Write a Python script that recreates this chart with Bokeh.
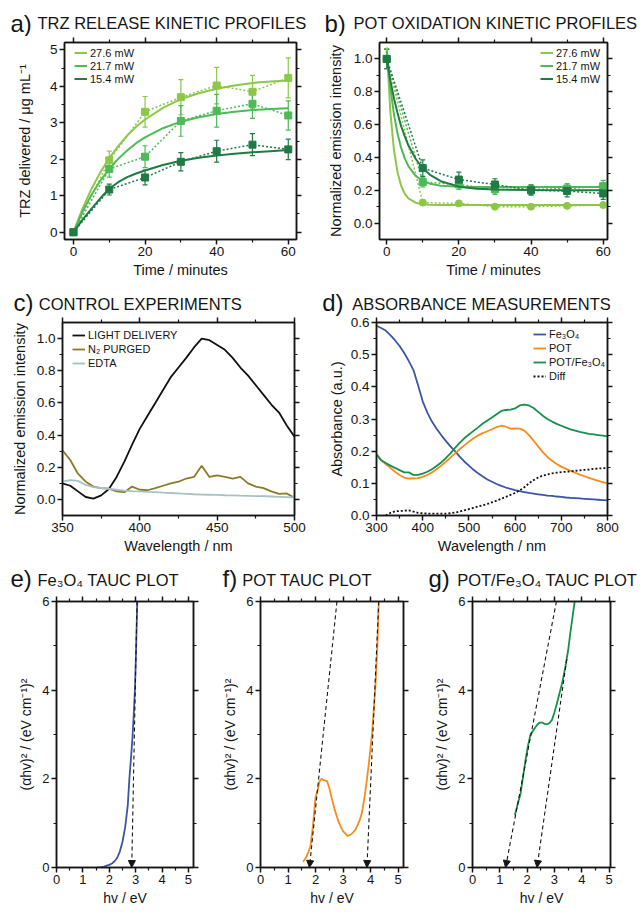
from bokeh.plotting import figure
from bokeh.models import (Range1d, LinearAxis, FixedTicker, PrintfTickFormatter,
                          Legend, LegendItem, Whisker, TeeHead, Arrow, NormalHead, ColumnDataSource)
from bokeh.core.properties import value
from bokeh.layouts import column, row
from bokeh.embed import file_html
from bokeh.resources import INLINE

FONT = "Liberation Sans"
INK = "#151515"

# ---------------- data ----------------
powers = ["27.6 mW", "21.7 mW", "15.4 mW"]
green_cols = ["#8cc74a", "#4dba57", "#1f7a45"]

time_pts = [0, 10, 20, 30, 40, 50, 60]
# a) TRZ release
trz_276 = [0, 1.97, 3.30, 3.70, 4.02, 3.85, 4.23]
trz_217 = [0, 1.73, 2.07, 3.05, 3.33, 3.52, 3.20]
trz_154 = [0, 1.17, 1.50, 1.93, 2.22, 2.40, 2.27]
trz_err_276 = [0, 0.25, 0.42, 0.48, 0.50, 0.45, 0.55]
trz_err_217 = [0, 0.22, 0.30, 0.42, 0.45, 0.40, 0.40]
trz_err_154 = [0, 0.15, 0.20, 0.25, 0.30, 0.30, 0.28]
fit_t_a = [0, 2.5, 5, 7.5, 10, 12.5, 15, 17.5, 20, 25, 30, 35, 40, 45, 50, 55, 60]
fit_a_276 = [0, 0.64, 1.18, 1.64, 2.03, 2.36, 2.65, 2.89, 3.09, 3.41, 3.65, 3.81, 3.93, 4.02, 4.09, 4.13, 4.16]
fit_a_217 = [0, 0.55, 1.02, 1.41, 1.74, 2.01, 2.24, 2.44, 2.60, 2.85, 3.03, 3.15, 3.24, 3.30, 3.35, 3.38, 3.40]
fit_a_154 = [0, 0.34, 0.64, 0.93, 1.19, 1.37, 1.51, 1.61, 1.69, 1.84, 1.96, 2.04, 2.10, 2.15, 2.19, 2.22, 2.25]

# b) POT oxidation
pot_276 = [1.0, 0.125, 0.12, 0.10, 0.10, 0.105, 0.11]
pot_217 = [1.0, 0.25, 0.235, 0.205, 0.205, 0.21, 0.225]
pot_154 = [1.0, 0.335, 0.265, 0.235, 0.20, 0.195, 0.18]
pot_err_276 = [0.06, 0.015, 0.015, 0.012, 0.012, 0.012, 0.015]
pot_err_217 = [0.06, 0.03, 0.03, 0.03, 0.03, 0.03, 0.035]
pot_err_154 = [0.06, 0.05, 0.045, 0.035, 0.03, 0.035, 0.035]
fit_t_b = [0, 1, 2, 3, 4, 5, 6, 8, 10, 12, 15, 20, 25, 30, 40, 50, 60]
fit_b_276 = [1.07, 0.68, 0.445, 0.31, 0.227, 0.179, 0.151, 0.124, 0.115, 0.112, 0.11, 0.11, 0.11, 0.11, 0.11, 0.11, 0.11]
fit_b_217 = [1.05, 0.827, 0.664, 0.545, 0.458, 0.394, 0.347, 0.288, 0.256, 0.24, 0.228, 0.222, 0.22, 0.22, 0.22, 0.22, 0.22]
fit_b_154 = [1.0, 0.87, 0.76, 0.67, 0.59, 0.53, 0.474, 0.392, 0.334, 0.294, 0.255, 0.222, 0.209, 0.204, 0.201, 0.2, 0.2]

# c) control experiments
wl_c = list(range(350, 501, 5))
light_delivery = [0.10, 0.085, 0.05, 0.015, 0.005, 0.025, 0.065, 0.14, 0.235, 0.34, 0.44, 0.52, 0.60, 0.68,
                  0.76, 0.82, 0.88, 0.945, 1.0, 0.99, 0.96, 0.93, 0.88, 0.82, 0.77, 0.71, 0.65, 0.59, 0.54, 0.46, 0.39]
n2_purged = [0.305, 0.245, 0.16, 0.11, 0.08, 0.07, 0.067, 0.05, 0.045, 0.08, 0.06, 0.057, 0.07, 0.085,
             0.10, 0.11, 0.13, 0.14, 0.21, 0.14, 0.15, 0.14, 0.13, 0.14, 0.10, 0.08, 0.07, 0.05, 0.035, 0.037, 0.01]
edta = [0.11, 0.12, 0.115, 0.09, 0.077, 0.07, 0.065, 0.06, 0.055, 0.052, 0.05, 0.047, 0.045, 0.042,
        0.04, 0.038, 0.035, 0.032, 0.03, 0.029, 0.028, 0.026, 0.025, 0.023, 0.022, 0.021, 0.02, 0.018, 0.016, 0.014, 0.012]

# d) absorbance
wl_d = list(range(300, 801, 10))
abs_fe3o4 = [0.590, 0.583, 0.575, 0.561, 0.545, 0.527, 0.505, 0.480, 0.452, 0.405, 0.355, 0.320, 0.292, 0.270,
             0.250, 0.232, 0.215, 0.200, 0.183, 0.168, 0.155, 0.142, 0.131, 0.121, 0.112, 0.105, 0.098, 0.092,
             0.087, 0.083, 0.079, 0.076, 0.073, 0.070, 0.068, 0.066, 0.064, 0.062, 0.061, 0.059, 0.058, 0.056,
             0.055, 0.054, 0.053, 0.052, 0.051, 0.050, 0.049, 0.048, 0.047]
abs_pot = [0.190, 0.172, 0.160, 0.148, 0.136, 0.126, 0.118, 0.115, 0.115, 0.116, 0.120, 0.126, 0.134, 0.144,
           0.155, 0.167, 0.180, 0.193, 0.206, 0.218, 0.229, 0.240, 0.249, 0.256, 0.262, 0.268, 0.275, 0.279,
           0.276, 0.270, 0.271, 0.270, 0.264, 0.250, 0.233, 0.214, 0.197, 0.182, 0.170, 0.160, 0.152, 0.145,
           0.139, 0.133, 0.127, 0.122, 0.117, 0.112, 0.108, 0.104, 0.100]
abs_pot_fe3o4 = [0.190, 0.172, 0.163, 0.155, 0.148, 0.141, 0.134, 0.134, 0.126, 0.126, 0.130, 0.136, 0.144, 0.154,
                 0.165, 0.178, 0.193, 0.210, 0.226, 0.240, 0.252, 0.263, 0.274, 0.286, 0.295, 0.305, 0.315, 0.325,
                 0.328, 0.329, 0.333, 0.342, 0.345, 0.342, 0.334, 0.322, 0.310, 0.300, 0.292, 0.285, 0.279, 0.273,
                 0.268, 0.264, 0.260, 0.257, 0.254, 0.252, 0.250, 0.248, 0.246]
wl_diff = list(range(320, 801, 10))
abs_diff = [0.000, 0.008, 0.013, 0.014, 0.015, 0.016, 0.012, 0.008, 0.007, 0.006, 0.006, 0.006, 0.006, 0.006,
            0.007, 0.009, 0.012, 0.016, 0.020, 0.024, 0.028, 0.032, 0.036, 0.041, 0.046, 0.052, 0.058, 0.064,
            0.070, 0.078, 0.088, 0.100, 0.110, 0.118, 0.124, 0.128, 0.131, 0.133, 0.135, 0.136, 0.137, 0.139,
            0.140, 0.142, 0.143, 0.145, 0.146, 0.147, 0.147]

# e-g) Tauc plots
tauc_e_hv = [1.54, 1.7, 1.8, 1.9, 2.0, 2.1, 2.2, 2.3, 2.4, 2.5, 2.6, 2.7, 2.76, 2.82, 2.88, 2.93, 2.97, 3.01, 3.06]
tauc_e_val = [0.0, 0.01, 0.02, 0.04, 0.06, 0.09, 0.14, 0.22, 0.36, 0.58, 0.9, 1.4, 2.0, 2.45, 2.95, 3.5, 4.0, 4.8, 6.0]
tauc_f_hv = [1.55, 1.65, 1.75, 1.82, 1.9, 2.0, 2.08, 2.15, 2.22, 2.3, 2.42, 2.5, 2.6, 2.7, 2.85, 3.0, 3.17,
             3.3, 3.45, 3.6, 3.69, 3.8, 3.93, 4.06, 4.18, 4.25, 4.3]
tauc_f_val = [0.13, 0.22, 0.36, 0.49, 0.9, 1.58, 1.75, 1.95, 2.0, 1.97, 1.95, 1.8, 1.54, 1.3, 1.01, 0.82, 0.71,
              0.75, 0.85, 1.05, 1.24, 1.65, 2.29, 3.04, 4.09, 5.0, 6.0]
tauc_g_hv = [1.55, 1.65, 1.76, 1.85, 1.94, 2.03, 2.12, 2.25, 2.37, 2.46, 2.55, 2.64, 2.73, 2.82, 2.91, 3.0,
             3.09, 3.18, 3.28, 3.4, 3.5, 3.58, 3.66, 3.74]
tauc_g_val = [1.18, 1.42, 1.67, 2.05, 2.42, 2.75, 2.99, 3.12, 3.22, 3.27, 3.27, 3.24, 3.23, 3.26, 3.33, 3.5,
              3.7, 3.92, 4.16, 4.53, 4.9, 5.29, 5.65, 6.0]
# tangent extrapolations (start hv, start value, band-gap hv at 0)
tan_e = [(3.05, 6.0, 2.85)]
tan_f = [(2.78, 6.0, 1.78), (4.30, 6.0, 3.87)]
tan_g = [(3.07, 6.0, 1.21), (3.45, 4.7, 2.36)]

# panel titles: (letter, title) per row
titles_row1 = [("a)", "TRZ RELEASE KINETIC PROFILES"), ("b)", "POT OXIDATION KINETIC PROFILES")]
titles_row2 = [("c)", "CONTROL EXPERIMENTS"), ("d)", "ABSORBANCE MEASUREMENTS")]
titles_row3 = [("e)", "Fe₃O₄ TAUC PLOT"), ("f)", "POT TAUC PLOT"), ("g)", "POT/Fe₃O₄ TAUC PLOT")]

LETTER_PX = 24
TITLE_PX = 16.5


# ---------------- helpers ----------------
def style_axis(ax, fs, show=True):
    ax.axis_line_color = INK
    ax.axis_line_width = 1.5
    ax.major_tick_line_color = INK
    ax.minor_tick_line_color = INK
    ax.major_tick_line_width = 1.5
    ax.minor_tick_line_width = 1.2
    ax.major_tick_out = 5
    ax.major_tick_in = 0
    ax.minor_tick_out = 3
    ax.minor_tick_in = 0
    ax.major_label_text_font = FONT
    ax.major_label_text_color = INK
    ax.major_label_standoff = 2
    ax.axis_label_text_font = FONT
    ax.axis_label_text_font_style = "normal"
    ax.axis_label_text_color = INK
    if show:
        ax.major_label_text_font_size = fs
    else:
        ax.major_label_text_font_size = "2px"
        ax.major_label_text_color = None
        ax.major_label_standoff = 0


def make_fig(w, h, l, r, t, b, xr, yr, xt, xm, yt, ym, xfmt, yfmt, xlab, ylab,
             tick_fs, lab_fs, xstand, ystand):
    p = figure(width=w, height=h, x_range=Range1d(*xr), y_range=Range1d(*yr),
               output_backend="svg", toolbar_location=None, title=None,
               min_border_left=l, min_border_right=r, min_border_top=t, min_border_bottom=b)
    p.xgrid.visible = False
    p.ygrid.visible = False
    p.outline_line_color = INK
    p.outline_line_width = 1.5
    p.background_fill_color = "white"
    p.border_fill_color = "white"
    xa = p.xaxis[0]
    ya = p.yaxis[0]
    xa.ticker = FixedTicker(ticks=xt, minor_ticks=xm)
    ya.ticker = FixedTicker(ticks=yt, minor_ticks=ym)
    xa.formatter = PrintfTickFormatter(format=xfmt)
    ya.formatter = PrintfTickFormatter(format=yfmt)
    style_axis(xa, tick_fs)
    style_axis(ya, tick_fs)
    xa.axis_label = xlab
    ya.axis_label = ylab
    xa.axis_label_text_font_size = lab_fs
    ya.axis_label_text_font_size = lab_fs
    xa.axis_label_standoff = xstand
    ya.axis_label_standoff = ystand
    top = LinearAxis(ticker=FixedTicker(ticks=xt, minor_ticks=xm))
    right = LinearAxis(ticker=FixedTicker(ticks=yt, minor_ticks=ym))
    style_axis(top, tick_fs, show=False)
    style_axis(right, tick_fs, show=False)
    p.add_layout(top, "above")
    p.add_layout(right, "right")
    return p


def title_fig(h, titles, letter_pos, title_pos):
    # positions are (x, alphabetic baseline) in pixels from the strip's top-left;
    # text is anchored at its middle, i.e. 0.35 em above the baseline
    p = figure(width=644, height=h, x_range=Range1d(0, 644), y_range=Range1d(h, 0),
               output_backend="svg", toolbar_location=None, title=None,
               x_axis_type=None, y_axis_type=None, min_border=0)
    p.xgrid.visible = False
    p.ygrid.visible = False
    p.outline_line_color = None
    p.border_fill_color = "white"
    p.text(x=[q[0] for q in letter_pos], y=[q[1] - 0.35 * LETTER_PX for q in letter_pos],
           text=[t[0] for t in titles],
           text_font=value(FONT), text_font_size=value(f"{LETTER_PX}px"), text_color=INK,
           text_baseline=value("middle"), text_align=value("left"))
    p.text(x=[q[0] for q in title_pos], y=[q[1] - 0.35 * TITLE_PX for q in title_pos],
           text=[t[1] for t in titles],
           text_font=value(FONT), text_font_size=value(f"{TITLE_PX}px"), text_color=INK,
           text_baseline=value("middle"), text_align=value("left"))
    return p


def add_legend(p, items, vx, vy, row_h):
    leg = Legend(items=[LegendItem(label=lab, renderers=[r]) for lab, r in items],
                 location=(vx, vy), label_text_font=FONT, label_text_font_size="11px",
                 label_text_color=INK, glyph_width=13, glyph_height=row_h, label_height=row_h,
                 label_standoff=3, spacing=0, padding=0, margin=0,
                 border_line_color=None, background_fill_alpha=0)
    p.add_layout(leg)


# ---------------- titles ----------------
t1 = title_fig(36, titles_row1, [(10, 31), (324, 31)], [(37, 28.5), (353, 28.5)])
t2 = title_fig(34, titles_row2, [(13, 28.5), (321.7, 28.5)], [(38.3, 27), (351.7, 27)])
t3 = title_fig(39, titles_row3, [(10, 30), (222, 30), (428, 30)], [(37, 29), (241.7, 29), (456.7, 29)])

# ---------------- a) ----------------
pa = make_fig(320, 246, 64, 24, 6, 43, (-2.5, 62.3), (-0.2, 5.2),
              [0, 20, 40, 60], [10, 30, 50], [0, 1, 2, 3, 4, 5], [0.5, 1.5, 2.5, 3.5, 4.5],
              "%d", "%d", "Time / minutes", "TRZ delivered / μg mL⁻¹", "13.5px", "14.5px", 3, 14)
leg_a = []
for lab, col, pts, errs, fit in zip(powers, green_cols, [trz_276, trz_217, trz_154],
                                    [trz_err_276, trz_err_217, trz_err_154],
                                    [fit_a_276, fit_a_217, fit_a_154]):
    pa.line(time_pts, pts, line_color=col, line_width=1.5, line_dash="2 2")
    src = ColumnDataSource(dict(x=time_pts, up=[v + e for v, e in zip(pts, errs)],
                                lo=[v - e for v, e in zip(pts, errs)]))
    pa.add_layout(Whisker(source=src, base="x", upper="up", lower="lo", line_color=col, line_width=1.2,
                          upper_head=TeeHead(size=5, line_color=col, line_width=1.2),
                          lower_head=TeeHead(size=5, line_color=col, line_width=1.2)))
    pa.scatter(time_pts, pts, marker="square", size=7, color=col)
    r = pa.line(fit_t_a, fit, line_color=col, line_width=2)
    leg_a.append((lab, r))
add_legend(pa, leg_a, 10, 154, 13)

# ---------------- b) ----------------
pb = make_fig(324, 246, 59, 37, 6, 43, (-2.0, 61.2), (-0.1, 1.1),
              [0, 20, 40, 60], [10, 30, 50], [0, 0.2, 0.4, 0.6, 0.8, 1.0],
              [0.1, 0.3, 0.5, 0.7, 0.9], "%d", "%.1f", "Time / minutes",
              "Normalized emission intensity", "13.5px", "14.5px", 3, 7)
leg_b = []
markers_b = ["circle", "square", "square"]
for lab, col, mk, pts, errs, fit in zip(powers, green_cols, markers_b, [pot_276, pot_217, pot_154],
                                        [pot_err_276, pot_err_217, pot_err_154],
                                        [fit_b_276, fit_b_217, fit_b_154]):
    pb.line(time_pts, pts, line_color=col, line_width=1.5, line_dash="2 2")
    src = ColumnDataSource(dict(x=time_pts, up=[v + e for v, e in zip(pts, errs)],
                                lo=[v - e for v, e in zip(pts, errs)]))
    pb.add_layout(Whisker(source=src, base="x", upper="up", lower="lo", line_color=col, line_width=1.2,
                          upper_head=TeeHead(size=5, line_color=col, line_width=1.2),
                          lower_head=TeeHead(size=5, line_color=col, line_width=1.2)))
    pb.scatter(time_pts, pts, marker=mk, size=7, color=col)
    r = pb.line(fit_t_b, fit, line_color=col, line_width=2)
    leg_b.append((lab, r))
add_legend(pb, leg_b, 161, 154, 13)

# ---------------- c) ----------------
pc = make_fig(320, 240, 62, 26, 6, 37, (350, 500), (-0.1, 1.1),
              [350, 400, 450, 500], [375, 425, 475], [0, 0.2, 0.4, 0.6, 0.8, 1.0],
              [0.1, 0.3, 0.5, 0.7, 0.9], "%d", "%.1f", "Wavelength / nm",
              "Normalized emission intensity", "13.5px", "14.5px", 3, 6)
r1 = pc.line(wl_c, light_delivery, line_color="#111111", line_width=1.8)
r2 = pc.line(wl_c, n2_purged, line_color="#8b7a2b", line_width=1.8)
r3 = pc.line(wl_c, edta, line_color="#a9c1c5", line_width=1.8)
add_legend(pc, [("LIGHT DELIVERY", r1), ("N₂ PURGED", r2), ("EDTA", r3)], 10, 145, 14)

# ---------------- d) ----------------
pd_ = make_fig(324, 240, 56, 37, 6, 36, (300, 800), (0, 0.6),
               [300, 400, 500, 600, 700, 800], [350, 450, 550, 650, 750],
               [0, 0.1, 0.2, 0.3, 0.4, 0.5, 0.6], [0.05, 0.15, 0.25, 0.35, 0.45, 0.55],
               "%d", "%.1f", "Wavelength / nm", "Absorbance (a.u.)", "13.5px", "14.5px", 3, 3)
d1 = pd_.line(wl_d, abs_fe3o4, line_color="#3c55a5", line_width=1.8)
d2 = pd_.line(wl_d, abs_pot, line_color="#f68b1f", line_width=1.8)
d3 = pd_.line(wl_d, abs_pot_fe3o4, line_color="#16904a", line_width=1.8)
d4 = pd_.line(wl_diff, abs_diff, line_color="#111111", line_width=1.8, line_dash="2 2")
add_legend(pd_, [("Fe₃O₄", d1), ("POT", d2), ("POT/Fe₃O₄", d3), ("Diff", d4)], 157, 132, 14)


# ---------------- e-g) ----------------
def tauc_fig(w, l, r, xmax, ystand):
    return make_fig(w, 315, l, r, 6, 43, (0, xmax), (0, 6),
                    [0, 1, 2, 3, 4, 5], [0.5, 1.5, 2.5, 3.5, 4.5], [0, 2, 4, 6], [1, 3, 5],
                    "%d", "%d", "hv / eV", "(αhv)² / (eV cm⁻¹)²", "13px", "14px", 3, ystand)


def add_tangents(p, tangents):
    for xs, ys, xe in tangents:
        p.add_layout(Arrow(x_start=xs, y_start=ys, x_end=xe, y_end=0, line_color=INK, line_width=1.1,
                           line_dash="4 3",
                           end=NormalHead(size=7, fill_color=INK, line_color=INK, line_width=1)))


pe = tauc_fig(215, 56, 22, 5.19, 5)
pe.line(tauc_e_hv, tauc_e_val, line_color="#3c55a5", line_width=1.8)
add_tangents(pe, tan_e)

pf = tauc_fig(210, 45, 22, 5.2, 5)
pf.line(tauc_f_hv, tauc_f_val, line_color="#f68b1f", line_width=1.8)
add_tangents(pf, tan_f)

pg = tauc_fig(219, 47, 34, 5.05, 5)
pg.line(tauc_g_hv, tauc_g_val, line_color="#16904a", line_width=1.8)
add_tangents(pg, tan_g)

layout = column(t1, row(pa, pb), t2, row(pc, pd_), t3, row(pe, pf, pg))
open("out.html", "w").write(file_html(layout, INLINE))
